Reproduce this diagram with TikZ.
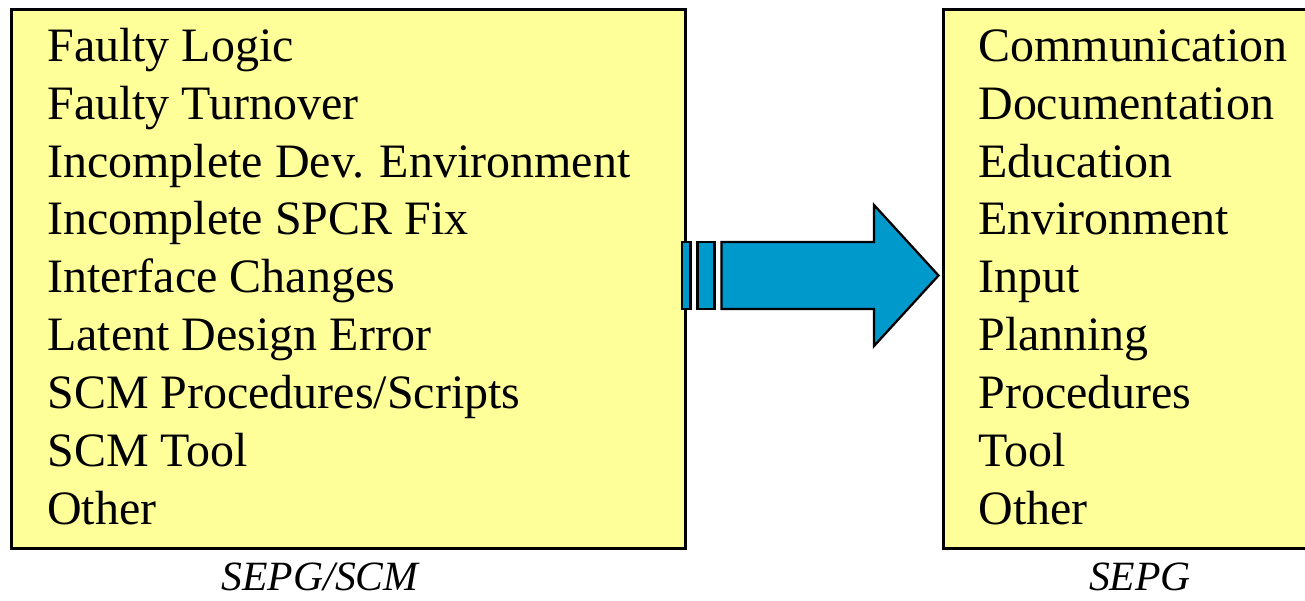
\documentclass[tikz,border=0pt]{standalone}
\usepackage{fontspec}
\setmainfont{Liberation Serif}
\usetikzlibrary{positioning}
\definecolor{boxyellow}{HTML}{FFFF99}
\definecolor{arrowblue}{HTML}{0099CC}
\begin{document}
\begin{tikzpicture}[
        every node/.style={inner sep=0pt},
        listbox/.style={draw, line width=1.6pt, fill=boxyellow, anchor=north west},
        listtext/.style={align=left, anchor=base west, font=\fontsize{27.3}{32.9}\selectfont},
        caption/.style={anchor=base, font=\fontsize{23.7}{28}\selectfont\itshape},
        arrowpart/.style={draw, line width=1.3pt, fill=arrowblue, line join=miter}
    ]

    % Page frame
    \clip (0,0) rectangle (26.1,12);

    % Left box: SEPG/SCM causes (text placed by its last line)
    \node[listbox, minimum width=13.48cm, minimum height=10.78cm] (scmbox) at (0.2,11.84) {};
    \node[listtext] (scmlist) at (0.94,1.52)
    {Faulty Logic\\Faulty Turnover\\Incomplete Dev. Environment\\Incomplete SPCR Fix\\
     Interface Changes\\Latent Design Error\\SCM Procedures/Scripts\\SCM Tool\\Other};

    % Right box: SEPG causes, runs past the page edge
    \node[listbox, minimum width=8cm, minimum height=10.78cm] (sepgbox) at (18.84,11.84) {};
    \node[listtext] (sepglist) at (19.56,1.52)
    {Communication\\Documentation\\Education\\Environment\\Input\\Planning\\Procedures\\Tool\\Other};

    % Captions under the boxes
    \node[caption] (scmcap) at (6.4,0.2) {SEPG/SCM};
    \node[caption] (sepgcap) at (22.8,0.2) {SEPG};

    % Block arrow with two stripes
    \draw[arrowpart] (13.64,5.82) rectangle (13.81,7.16);
    \draw[arrowpart] (13.95,5.82) rectangle (14.29,7.16);
    \draw[arrowpart] (14.43,5.82) -- (17.48,5.82) -- (17.48,5.08) -- (18.77,6.49)
        -- (17.48,7.9) -- (17.48,7.16) -- (14.43,7.16) -- cycle;

\end{tikzpicture}
\end{document}
